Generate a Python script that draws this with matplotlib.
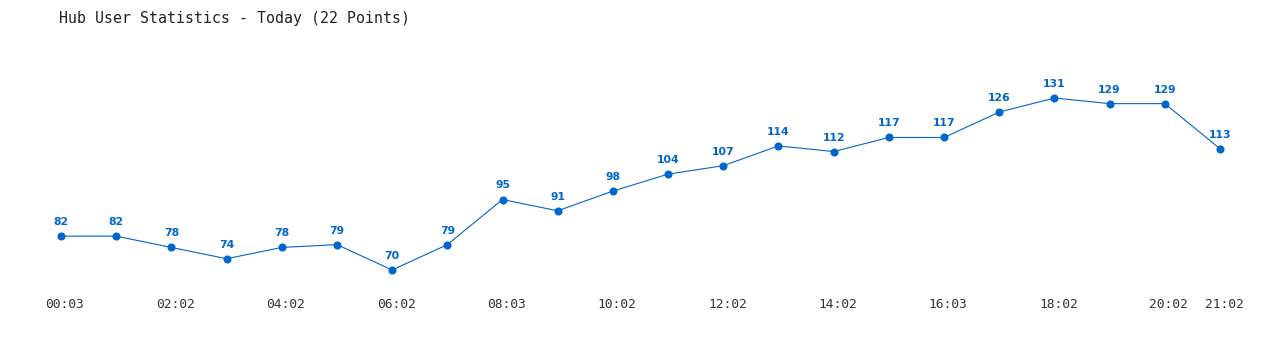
import matplotlib.pyplot as plt
import matplotlib.transforms as mtransforms

values = [82, 82, 78, 74, 78, 79, 70, 79, 95, 91, 98, 104, 107, 114, 112, 117, 117, 126, 131, 129, 129, 113]
tick_pos = [0, 2, 4, 6, 8, 10, 12, 14, 16, 18, 20, 21]
tick_labels = ['00:03', '02:02', '04:02', '06:02', '08:03', '10:02', '12:02',
               '14:02', '16:03', '18:02', '20:02', '21:02']

blue = '#0066cc'

fig = plt.figure(figsize=(12.8, 3.5), dpi=100)
ax = fig.add_axes([0, 60 / 350, 1, 230 / 350])

x = list(range(len(values)))
ax.plot(x, values, color=blue, lw=0.8, marker='o', ms=4.8)
for xi, v in zip(x, values):
    ax.annotate(str(v), (xi, v), xytext=(0, 6.5), textcoords='offset points',
                ha='center', va='bottom', color=blue, fontsize=7.8,
                fontweight='bold', family='DejaVu Sans')

ppx = 1159 / 21
ax.set_xlim(-61 / ppx, 21 + 60 / ppx)
ppy = 172 / 61
ax.set_ylim(70 - 20 / ppy, 131 + 38 / ppy)

ax.set_xticks(tick_pos)
ax.set_xticklabels(tick_labels, family='DejaVu Sans Mono', fontsize=9.3, color='#333333')
ax.tick_params(axis='x', length=0, pad=6)
shift = mtransforms.ScaledTranslation(4 / 100, 0, fig.dpi_scale_trans)
for lbl in ax.get_xticklabels():
    lbl.set_transform(lbl.get_transform() + shift)
ax.set_yticks([])
for s in ax.spines.values():
    s.set_visible(False)

fig.text(59 / 1280, 1 - 18 / 350, 'Hub User Statistics - Today (22 Points)',
         family='DejaVu Sans Mono', fontsize=10.7, color='#222222',
         ha='left', va='center')

fig.savefig('out.png', dpi=100)
